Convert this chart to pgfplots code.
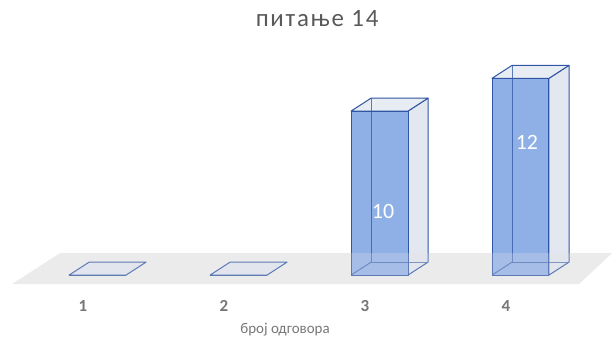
\documentclass[border=0pt]{standalone}
\usepackage{pgfplots}
\pgfplotsset{compat=1.18}
\usepackage{pgfplotstable}
\usepackage{fontspec}
\setmainfont{Carlito}
\newfontfamily\titlefont[LetterSpace=7]{Carlito}
\definecolor{txtgray}{HTML}{595959}
\definecolor{tickgray}{HTML}{767676}
\definecolor{edgeblue}{HTML}{2F55A4}
\definecolor{frontblue}{HTML}{8FB0E6}
\definecolor{sideface}{HTML}{DFE4EE}
\definecolor{topface}{HTML}{E6EAF2}
\definecolor{floorgray}{HTML}{EBEBEB}

\pgfplotstableread{
c v
1 0
2 0
3 10
4 12
}\answers

\begin{document}
\begin{tikzpicture}
\begin{axis}[
  x=141bp, y=16.4bp,
  xmin=0.411, xmax=4.752, ymin=-4.02, ymax=16.77,
  axis line style={draw=none},
  ytick=\empty,
  xtick={1,2,3,4},
  major tick length=0pt,
  /pgf/number format/assume math mode=true,
  xticklabel style={font=\fontsize{17}{19}\selectfont\bfseries, text=tickgray, anchor=center, yshift=35bp},
  clip=false,
]
% floor
\addplot[fill=floorgray, draw=none] coordinates {(0.496,-0.55) (4.518,-0.55) (4.752,1.34) (0.837,1.34)} --cycle;

% flat bars (value 0)
\addplot[fill=sideface, draw=edgeblue, line width=1pt, line join=round] coordinates {(0.901,0) (1.043,0.79) (1.447,0.79) (1.305,0)} --cycle;
\addplot[fill=sideface, draw=edgeblue, line width=1pt, line join=round] coordinates {(1.901,0) (2.043,0.79) (2.447,0.79) (2.305,0)} --cycle;

% bar 3: side and top faces
\addplot[fill=sideface, fill opacity=0.9, draw=edgeblue, line width=1pt, line join=round] coordinates {(3.305,0) (3.447,0.79) (3.447,10.79) (3.305,10)} --cycle;
\addplot[fill=topface, fill opacity=0.9, draw=edgeblue, line width=1pt, line join=round] coordinates {(2.901,10) (3.043,10.79) (3.447,10.79) (3.305,10)} --cycle;
% bar 4: side and top faces
\addplot[fill=sideface, fill opacity=0.9, draw=edgeblue, line width=1pt, line join=round] coordinates {(4.305,0) (4.447,0.79) (4.447,12.79) (4.305,12)} --cycle;
\addplot[fill=topface, fill opacity=0.9, draw=edgeblue, line width=1pt, line join=round] coordinates {(3.901,12) (4.043,12.79) (4.447,12.79) (4.305,12)} --cycle;

% front faces from the data
\addplot[ybar, bar width=0.404, bar shift=0.103, fill=frontblue, draw=edgeblue, line width=1pt] table[x=c, y=v] {\answers};

% back edges seen through the front
\addplot[draw=edgeblue, draw opacity=0.75, line width=1pt, line join=round] coordinates {(3.043,10.79) (3.043,0.79) (3.447,0.79)};
\addplot[draw=edgeblue, draw opacity=0.75, line width=1pt] coordinates {(2.901,0) (3.043,0.79)};
\addplot[draw=edgeblue, draw opacity=0.75, line width=1pt, line join=round] coordinates {(4.043,12.79) (4.043,0.79) (4.447,0.79)};
\addplot[draw=edgeblue, draw opacity=0.75, line width=1pt] coordinates {(3.901,0) (4.043,0.79)};

% floor seen over the feet of the bars
\addplot[fill=floorgray, fill opacity=0.25, draw=none] coordinates {(0.496,-0.55) (4.518,-0.55) (4.752,1.34) (0.837,1.34)} --cycle;

% data labels
\node[text=white, font=\fontsize{22}{24}\selectfont] at (axis cs:3.128,3.9) {10};
\node[text=white, font=\fontsize{22}{24}\selectfont] at (axis cs:4.149,8.11) {12};

% title and axis title
\node[text=txtgray, font=\titlefont\fontsize{25}{27}\selectfont] at (axis cs:2.66,15.62) {питање 14};
\node[text=tickgray, font=\fontsize{15}{17}\selectfont] at (axis cs:2.433,-3.35) {број одговора};
\end{axis}
\end{tikzpicture}
\end{document}
